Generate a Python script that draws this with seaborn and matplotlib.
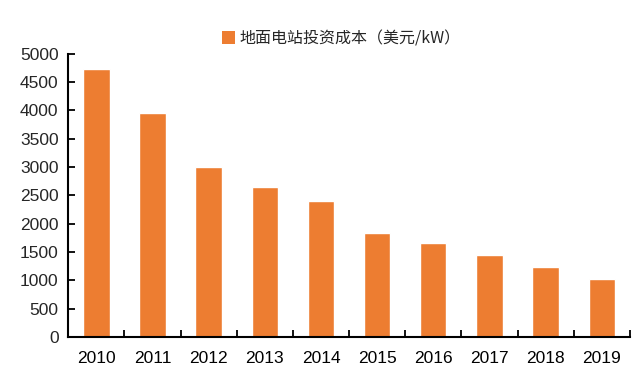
import numpy as np
import pandas as pd
import matplotlib
matplotlib.use("Agg")
import matplotlib.pyplot as plt
import seaborn as sns
from matplotlib.patches import Patch

years = ["2010", "2011", "2012", "2013", "2014", "2015", "2016", "2017", "2018", "2019"]
cost = [4730, 3950, 3000, 2645, 2400, 1830, 1655, 1445, 1230, 1020]
series_name = "地面电站投资成本（美元/kW）"

bar_color = "#ED7D31"

sns.set_theme(style="white")
plt.rcParams["font.family"] = ["Liberation Sans", "Noto Sans CJK SC", "DejaVu Sans"]

df = pd.DataFrame({"year": years, "cost": cost})

fig = plt.figure(figsize=(6.44, 3.85), dpi=100)
ax = fig.add_axes([0.106, 0.125, 0.872, 0.735])

sns.barplot(data=df, x="year", y="cost", color=bar_color, width=0.47,
            saturation=1, ax=ax)

ax.set_xlim(-0.5, len(years) - 0.5)
ax.set_ylim(0, 5000)
ax.set_yticks(np.arange(0, 5001, 500))
ax.set_xlabel("")
ax.set_ylabel("")

for side in ["top", "right"]:
    ax.spines[side].set_visible(False)
for side in ["left", "bottom"]:
    ax.spines[side].set_color("black")
    ax.spines[side].set_linewidth(1.5)

# ticks between categories, pointing inward
ax.set_xticks(np.arange(-0.5, len(years), 1), minor=True)
ax.tick_params(axis="x", which="major", length=0, labelsize=12.5, pad=10, colors="black")
ax.tick_params(axis="x", which="minor", direction="in", length=5, width=1.3, color="black", bottom=True)
ax.tick_params(axis="y", which="major", direction="in", length=5, width=1.3, color="black",
               labelsize=12.5, pad=7, left=True)

handle = Patch(facecolor=bar_color, edgecolor="none")
fig.legend([handle], [series_name], loc="center", bbox_to_anchor=(0.53, 0.90),
           frameon=False, handlelength=0.8, handleheight=0.9,
           handletextpad=0.3, prop={"family": ["Noto Sans CJK SC", "DejaVu Sans"], "size": 11.5})

fig.savefig("out.png", dpi=100)
